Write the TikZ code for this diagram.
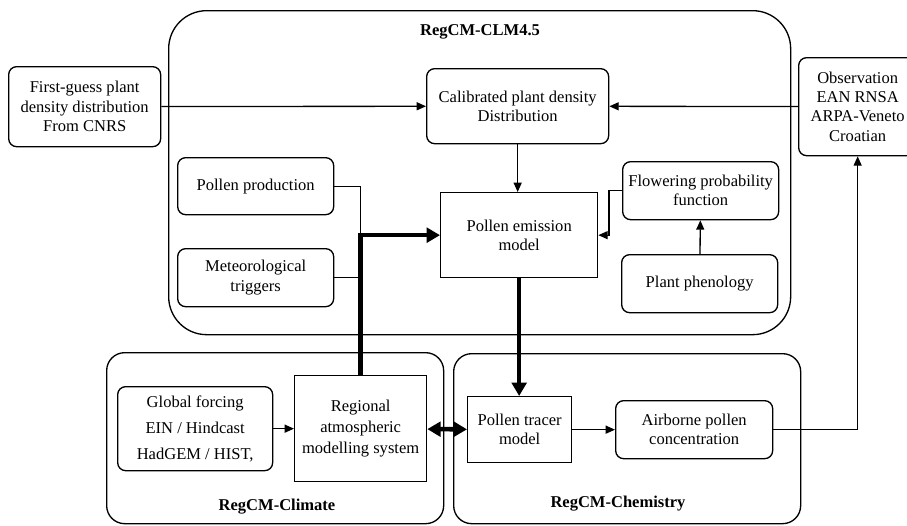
\documentclass[tikz,border=0pt]{standalone}
\usepackage{fontspec}
\setmainfont{Liberation Serif}
\usetikzlibrary{arrows.meta}

\begin{document}
\begin{tikzpicture}[
                    x=0.75pt, y=-0.75pt,
                    every node/.style={
                        align=center,
                        inner sep=2pt,
                        font=\fontsize{12.4}{14.5}\selectfont
                    },
                    group/.style={draw, line width=1pt, anchor=north west},
                    box/.style={draw, line width=1pt, rounded corners=6pt, anchor=north west},
                    sq/.style={draw, line width=1pt, anchor=north west},
                    title/.style={font=\fontsize{12.4}{14.5}\selectfont\bfseries},
                    arr/.style={line width=1pt, -{Triangle[length=7pt, width=6pt]}},
                    fat/.style={line width=3.4pt, -{Triangle[length=10pt, width=11pt]}}
                ]
                    \useasboundingbox (0,0) rectangle (907,525);

                    % Groups
                    \node[group, rounded corners=28.5pt, minimum width=466.5pt, minimum height=243pt] (clm) at (168,10) {};
                    \node[group, rounded corners=13.5pt, minimum width=252.75pt, minimum height=128.25pt] (climate) at (106,352) {};
                    \node[group, rounded corners=13.5pt, minimum width=260.25pt, minimum height=127.5pt] (chem) at (453,353) {};
                    \node[title] (clmtitle) at (480,32) {RegCM-CLM4.5};
                    \node[title] (climatetitle) at (277,507) {RegCM-Climate};
                    \node[title] (chemtitle) at (618,504) {RegCM-Chemistry};

                    % Boxes
                    \node[box, minimum width=114pt, minimum height=60pt] (first) at (8,66) {First-guess plant\\density distribution\\From CNRS};
                    \node[box, minimum width=136.5pt, minimum height=56.25pt] (calib) at (426,68) {Calibrated plant density\\Distribution};
                    \node[box, minimum width=88.5pt, minimum height=73.5pt] (obs) at (798,57) {Observation\\EAN RNSA\\ARPA-Veneto\\Croatian};
                    \node[sq, minimum width=117.75pt, minimum height=63.75pt] (emis) at (440,192) {Pollen emission\\model};
                    \node[box, minimum width=117pt, minimum height=43.5pt] (flow) at (622,161) {Flowering probability\\function};
                    \node[box, minimum width=117pt, minimum height=43.5pt] (phen) at (621,254) {Plant phenology};
                    \node[box, minimum width=117pt, minimum height=42.75pt] (prod) at (177,157) {Pollen production};
                    \node[box, minimum width=117pt, minimum height=43.5pt] (met) at (177,248) {Meteorological\\triggers};
                    \node[sq, minimum width=99pt, minimum height=79.5pt, font=\fontsize{12.4}{15.6}\selectfont] (regional) at (294,375) {Regional\\atmospheric\\modelling system};
                    \node[box, minimum width=116.25pt, minimum height=63pt] (global) at (117,386) {Global forcing\\[5pt]EIN / Hindcast\\[5pt]HadGEM / HIST,};
                    \node[sq, minimum width=78pt, minimum height=49.5pt] (tracer) at (467,396) {Pollen tracer\\model};
                    \node[box, minimum width=117.75pt, minimum height=43.5pt] (air) at (615,400) {Airborne pollen\\concentration};

                    % Edges
                    \draw[arr] (first) -- (calib);
                    \draw[arr] (obs) -- (calib);
                    \draw[arr] (calib.south) -- (calib.south |- emis.north);
                    \draw[arr] (phen) -- (flow);
                    \draw[arr] (flow.west) -- ++(-13,0) |- (emis.east);
                    \draw[line width=1pt] (prod.east) -| (regional.north |- met.east) -- (met.east);
                    \draw[fat] (regional.north) |- (emis.west);
                    \draw[fat] (emis.south) -- (emis.south |- tracer.north);
                    \draw[fat, {Triangle[length=10pt, width=11pt]}-{Triangle[length=10pt, width=11pt]}] (regional) -- (tracer);
                    \draw[arr] (global) -- (regional);
                    \draw[arr] (tracer) -- (air);
                    \draw[arr] (air.east) -| (obs.south);
                \end{tikzpicture}
\end{document}
